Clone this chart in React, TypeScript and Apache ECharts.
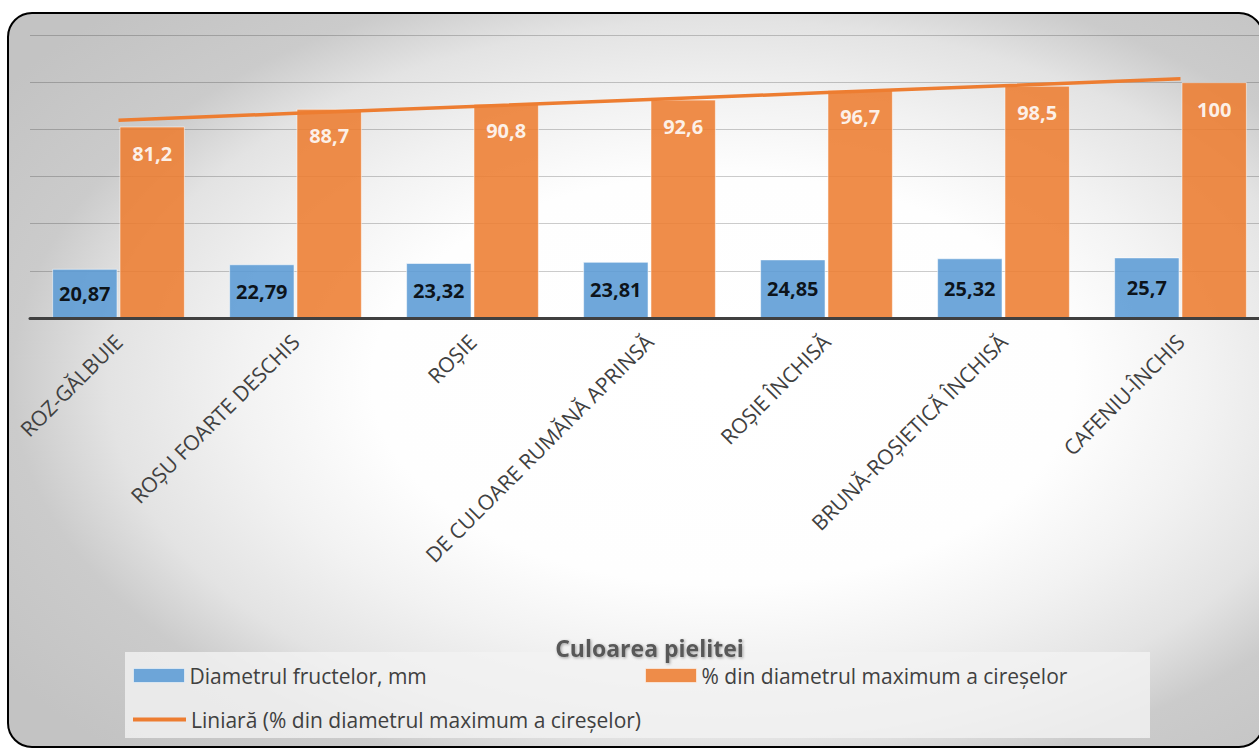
import React, { useEffect, useRef } from "react";
import * as echarts from "echarts";

// Skin colour categories of the cherry fruits
const categories = [
  "ROZ-GĂLBUIE",
  "ROȘU FOARTE DESCHIS",
  "ROȘIE",
  "DE CULOARE RUMĂNĂ APRINSĂ",
  "ROȘIE ÎNCHISĂ",
  "BRUNĂ-ROȘIETICĂ ÎNCHISĂ",
  "CAFENIU-ÎNCHIS",
];

// Fruit diameter, mm
const diameterMm = [20.87, 22.79, 23.32, 23.81, 24.85, 25.32, 25.7];

// Diameter as % of the largest cherries
const percentOfMax = [81.2, 88.7, 90.8, 92.6, 96.7, 98.5, 100];

// Value axis range
const yMin = 0;
const yMax = 120;
const yStep = 20;

const seriesNames = [
  "Diametrul fructelor, mm",
  "% din diametrul maximum a cireșelor",
  "Liniară (% din diametrul maximum a cireșelor)",
];

// Least-squares linear trendline through the percentage series
function linearTrend(values: number[]): number[] {
  const n = values.length;
  const xs = values.map((_, i) => i + 1);
  const mx = xs.reduce((a, b) => a + b, 0) / n;
  const my = values.reduce((a, b) => a + b, 0) / n;
  let sxy = 0;
  let sxx = 0;
  for (let i = 0; i < n; i++) {
    sxy += (xs[i] - mx) * (values[i] - my);
    sxx += (xs[i] - mx) * (xs[i] - mx);
  }
  const slope = sxy / sxx;
  const icpt = my - slope * mx;
  return xs.map((x) => +(icpt + slope * x).toFixed(3));
}

const commaDecimal = (p: any) => String(p.value).replace(".", ",");

const FONT = "'Open Sans', 'Noto Sans', sans-serif";

export default function App() {
  const ref = useRef<HTMLDivElement>(null);

  useEffect(() => {
    if (!ref.current) return;
    const chart = echarts.init(ref.current, undefined, { renderer: "svg" });

    const legendText = { color: "#404040", fontSize: 21, fontFamily: FONT };
    const legendIconBorder = { borderColor: "rgba(255,255,255,0.6)", borderWidth: 1 };

    chart.setOption({
      animation: false,
      graphic: [
        {
          type: "rect",
          z: -10,
          silent: true,
          shape: { x: 8, y: 13, width: 1255, height: 734, r: 24 },
          style: {
            fill: {
              type: "radial",
              x: 0.57,
              y: 0.5,
              r: 0.7,
              colorStops: [
                { offset: 0, color: "#ffffff" },
                { offset: 0.4, color: "#fefefe" },
                { offset: 0.55, color: "#f2f2f2" },
                { offset: 0.7, color: "#e3e3e3" },
                { offset: 0.81, color: "#cbcbcb" },
                { offset: 1, color: "#c3c3c3" },
              ],
            },
            stroke: "#000000",
            lineWidth: 2,
          },
        },
        {
          type: "rect",
          z: 1,
          silent: true,
          shape: { x: 125, y: 652, width: 1025, height: 86 },
          style: { fill: "rgba(242,242,242,0.8)" },
        },
      ],
      grid: { left: 30, right: 31, top: 35, height: 283 },
      legend: [
        {
          data: [{ name: seriesNames[0], icon: "rect", itemStyle: legendIconBorder }],
          left: 128,
          top: 660,
          itemWidth: 51,
          itemHeight: 14,
          textStyle: legendText,
        },
        {
          data: [{ name: seriesNames[1], icon: "rect", itemStyle: legendIconBorder }],
          left: 640,
          top: 660,
          itemWidth: 51,
          itemHeight: 14,
          textStyle: legendText,
        },
        {
          data: [{ name: seriesNames[2], icon: "rect" }],
          left: 128,
          top: 704,
          itemWidth: 53,
          itemHeight: 4,
          textStyle: legendText,
        },
      ],
      xAxis: {
        type: "category",
        data: categories,
        z: 3,
        axisLine: { lineStyle: { color: "#404040", width: 3 } },
        axisTick: { show: false },
        axisLabel: {
          rotate: 45,
          margin: 20,
          interval: 0,
          color: "#404040",
          fontSize: 21,
          fontFamily: FONT,
        },
        name: "Culoarea pielitei",
        nameLocation: "middle",
        nameGap: 318,
        nameTextStyle: {
          color: "#595959",
          fontSize: 23,
          fontWeight: "bold",
          fontFamily: FONT,
          textShadowColor: "rgba(0,0,0,0.35)",
          textShadowBlur: 3,
          textShadowOffsetX: 1,
          textShadowOffsetY: 1,
        },
      },
      yAxis: {
        type: "value",
        min: yMin,
        max: yMax,
        interval: yStep,
        axisLine: { show: false },
        axisTick: { show: false },
        axisLabel: { show: false },
        splitLine: { lineStyle: { color: "rgba(0,0,0,0.2)", width: 1.2 } },
      },
      series: [
        {
          name: seriesNames[0],
          type: "bar",
          data: diameterMm,
          barCategoryGap: "25%",
          barGap: "3%",
          itemStyle: {
            color: "#5b9bd5",
            opacity: 0.88,
            borderColor: "rgba(255,255,255,0.6)",
            borderWidth: 1,
          },
          label: {
            show: true,
            position: "inside",
            formatter: commaDecimal,
            color: "#000000",
            fontSize: 20,
            fontWeight: "bold",
            fontFamily: FONT,
          },
        },
        {
          name: seriesNames[1],
          type: "bar",
          data: percentOfMax,
          itemStyle: {
            color: "#ed7d31",
            opacity: 0.88,
            borderColor: "rgba(255,255,255,0.6)",
            borderWidth: 1,
          },
          label: {
            show: true,
            position: "insideTop",
            distance: 17,
            formatter: commaDecimal,
            color: "#ffffff",
            fontSize: 20,
            fontWeight: "bold",
            fontFamily: FONT,
          },
        },
        {
          name: seriesNames[2],
          type: "line",
          data: linearTrend(percentOfMax),
          showSymbol: false,
          symbol: "none",
          z: 4,
          lineStyle: { color: "#ed7d31", width: 3.5 },
          itemStyle: { color: "#ed7d31" },
        },
      ],
    });

    return () => chart.dispose();
  }, []);

  return (
    <div
      style={{
        position: "fixed",
        left: 0,
        top: 0,
        width: 1259,
        height: 749,
        overflow: "hidden",
        background: "#ffffff",
      }}
    >
      <div ref={ref} style={{ width: 1300, height: 790 }} />
    </div>
  );
}
